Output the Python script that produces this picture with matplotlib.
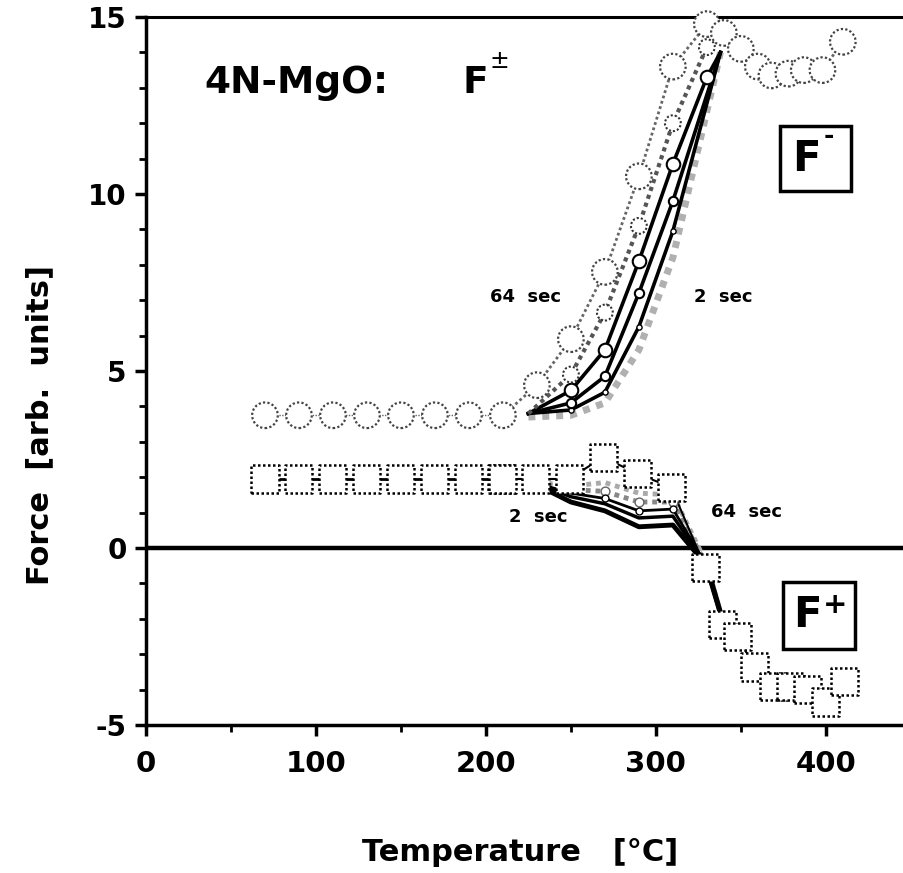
import matplotlib.pyplot as plt
from matplotlib.patches import Rectangle

plt.rcParams['font.family'] = 'DejaVu Sans'
plt.rcParams['font.weight'] = 'bold'
plt.rcParams['axes.unicode_minus'] = False

# --- data ---
# flat part, both signs
temp_base = [70, 90, 110, 130, 150, 170, 190, 210]
fminus_base = [3.75, 3.75, 3.75, 3.75, 3.75, 3.75, 3.75, 3.75]
fplus_base = [1.95, 1.95, 1.95, 1.95, 1.95, 1.95, 1.95, 1.95]

# F- : 64 sec curve (big circles) + tail above 330 C
temp_m64 = [210, 230, 250, 270, 290, 310, 330, 340, 350, 360, 368, 378, 387, 398, 410]
fminus_64 = [3.75, 4.6, 5.9, 7.8, 10.5, 13.6, 14.8, 14.55, 14.1, 13.6, 13.35, 13.4, 13.5, 13.5, 14.3]

# F- : shorter integration times
temp_m32 = [225, 250, 270, 290, 310, 330]
fminus_32 = [3.8, 4.9, 6.65, 9.1, 12.0, 14.15]
temp_m16 = [225, 250, 270, 290, 310, 330, 338]
fminus_16 = [3.8, 4.45, 5.6, 8.1, 10.85, 13.3, 14.0]
temp_mfast = [225, 250, 270, 290, 310, 338]
fminus_8 = [3.8, 4.1, 4.85, 7.2, 9.8, 14.0]
fminus_4 = [3.8, 3.9, 4.4, 6.25, 8.95, 14.0]
fminus_2 = [3.7, 3.75, 4.1, 5.6, 8.2, 14.0]

# F+ : 64 sec curve (big squares)
temp_p64 = [209, 229, 249, 269, 289, 309, 329, 339, 348, 358, 369, 379, 389, 400, 411]
fplus_64 = [1.95, 1.95, 1.95, 2.57, 2.1, 1.72, -0.54, -2.15, -2.5, -3.36, -3.9, -3.9, -4.0, -4.35, -3.76]

# F+ : shorter integration times
temp_pfast = [225, 250, 270, 290, 310, 330, 340]
fplus_32 = [1.9, 1.75, 1.85, 1.55, 1.5, -0.45, -2.15]
fplus_16 = [1.9, 1.65, 1.6, 1.3, 1.3, -0.5, -2.15]
fplus_8 = [1.9, 1.55, 1.4, 1.05, 1.1, -0.5, -2.15]
fplus_4 = [1.9, 1.45, 1.25, 0.85, 0.9, -0.5, -2.15]
fplus_2 = [1.9, 1.3, 1.05, 0.6, 0.65, -0.5, -2.15]

fig = plt.figure(figsize=(9.04, 8.73), dpi=100)
ax = fig.add_axes([0.1615, 0.1695, 0.8385, 0.811])
ax.set_xlim(0, 446)
ax.set_ylim(-5, 15)

dot = (0, (1, 1))

# zero line
ax.axhline(0, color='black', lw=3.2, zorder=1)

# ---- F- family ----
ax.plot(temp_mfast, fminus_2, color='#b0b0b0', lw=5, ls=dot, zorder=2)
ax.plot(temp_mfast, fminus_4, color='black', lw=2.6, zorder=3)
ax.plot(temp_mfast, fminus_8, color='black', lw=2.6, zorder=3)
ax.plot(temp_m16, fminus_16, color='black', lw=2.6, zorder=3)
ax.plot(temp_m32, fminus_32, color='#555555', lw=3, ls=dot, zorder=3)
ax.plot(temp_m64, fminus_64, color='#666666', lw=2, ls=dot, zorder=3)
ax.plot(temp_base, fminus_base, color='#666666', lw=1, ls=dot, zorder=3)

ax.scatter(temp_mfast[1:-1], fminus_4[1:-1], s=14, marker='o', fc='white', ec='black', lw=1, zorder=5)
ax.scatter(temp_mfast[1:-1], fminus_8[1:-1], s=45, marker='o', fc='white', ec='black', lw=1.5, zorder=5)
ax.scatter(temp_m16[1:-1], fminus_16[1:-1], s=95, marker='o', fc='white', ec='black', lw=1.5, zorder=5)
ax.scatter(temp_m32[1:], fminus_32[1:], s=130, marker='o', fc='white', ec='#333333',
           lw=1.5, linestyles=dot, zorder=5)
ax.scatter(temp_m64[1:], fminus_64[1:], s=340, marker='o', fc='white', ec='#444444',
           lw=1.6, linestyles=dot, zorder=6, clip_on=False)
ax.scatter(temp_base, fminus_base, s=340, marker='o', fc='white', ec='#444444',
           lw=1.6, linestyles=dot, zorder=6)

# ---- F+ family ----
ax.plot(temp_pfast, fplus_32, color='#aaaaaa', lw=3.5, ls=dot, zorder=2)
ax.plot(temp_pfast, fplus_16, color='#888888', lw=3.5, ls=dot, zorder=2)
ax.plot(temp_pfast, fplus_8, color='black', lw=2, zorder=3)
ax.plot(temp_pfast, fplus_4, color='black', lw=2.5, zorder=3)
ax.plot(temp_pfast, fplus_2, color='black', lw=3.5, zorder=3)
ax.plot(temp_p64, fplus_64, color='black', lw=1.5, zorder=3)
ax.plot(temp_base, fplus_base, color='black', lw=2, zorder=3)

ax.scatter(temp_pfast[2:5], fplus_16[2:5], s=40, marker='o', fc='white', ec='#666666', lw=1, zorder=4)
ax.scatter(temp_pfast[2:5], fplus_8[2:5], s=25, marker='o', fc='white', ec='black', lw=1, zorder=4)
ax.scatter(temp_p64, fplus_64, s=380, marker='s', fc='white', ec='black',
           lw=1.8, linestyles=dot, zorder=6)
ax.scatter(temp_base, fplus_base, s=380, marker='s', fc='white', ec='black',
           lw=1.8, linestyles=dot, zorder=6)

# ---- annotations ----
ax.text(34.5, 13.15, '4N-MgO:', fontsize=27, ha='left', va='center')
ax.text(186, 13.15, 'F', fontsize=27, ha='left', va='center')
ax.text(202, 13.75, '±', fontsize=17, fontweight='normal', ha='left', va='center')
ax.text(223.5, 7.1, '64  sec', fontsize=13, ha='center', va='center')
ax.text(339.5, 7.1, '2  sec', fontsize=13, ha='center', va='center')
ax.text(231, 0.88, '2  sec', fontsize=13, ha='center', va='center')
ax.text(353.5, 1.02, '64  sec', fontsize=13, ha='center', va='center')

# boxed labels F- and F+
ax.add_patch(Rectangle((373, 10.08), 42, 1.84, fc='white', ec='black', lw=2.5, zorder=7))
ax.text(380, 11.0, 'F', fontsize=30, ha='left', va='center', zorder=8)
ax.text(398.5, 11.65, '-', fontsize=18, ha='left', va='center', zorder=8)
ax.add_patch(Rectangle((375, -2.85), 42, 1.89, fc='white', ec='black', lw=2.5, zorder=7))
ax.text(380.5, -1.9, 'F', fontsize=30, ha='left', va='center', zorder=8)
ax.text(398.5, -1.6, '+', fontsize=21, ha='left', va='center', zorder=8)

# ---- axes styling ----
ax.spines['right'].set_visible(False)
ax.spines['top'].set_linewidth(2.2)
ax.spines['left'].set_linewidth(2.5)
ax.spines['bottom'].set_linewidth(2.5)

ax.set_xticks([0, 100, 200, 300, 400])
ax.set_xticks([50, 150, 250, 350], minor=True)
ax.set_yticks([-5, 0, 5, 10, 15])
ax.set_yticks([-4, -3, -2, -1, 1, 2, 3, 4, 6, 7, 8, 9, 11, 12, 13, 14], minor=True)
ax.tick_params(axis='both', which='major', direction='out', length=8, width=2.5)
ax.tick_params(axis='both', which='minor', direction='out', length=5, width=2)
ax.tick_params(axis='x', which='major', labelsize=21, pad=10)
ax.tick_params(axis='y', which='major', labelsize=20, pad=6)

fig.text(0.575, 0.024, 'Temperature   [°C]', fontsize=22, ha='center', va='center')
fig.text(0.044, 0.513, 'Force  [arb.  units]', fontsize=22, ha='center', va='center', rotation=90)

fig.savefig('out.png', dpi=100)
